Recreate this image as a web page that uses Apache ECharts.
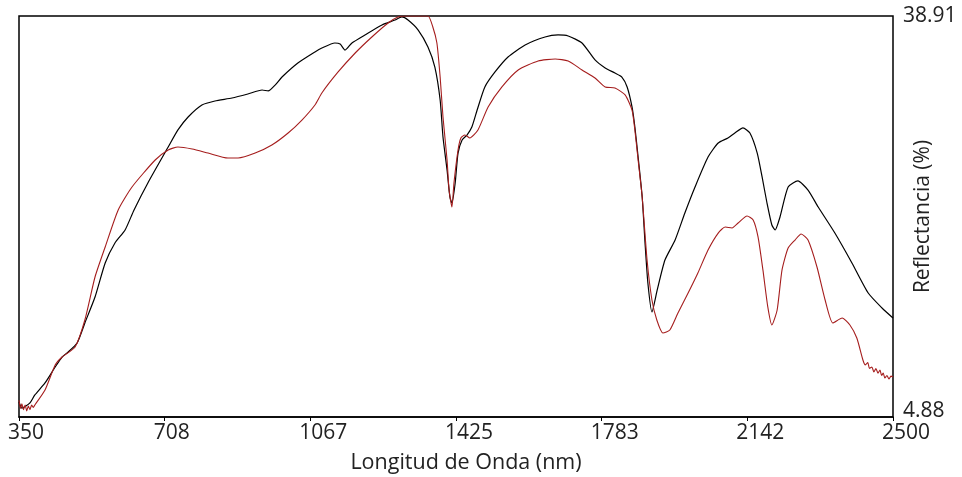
<!DOCTYPE html>
<html><head><meta charset="utf-8">
<script src="https://cdn.jsdelivr.net/npm/echarts@6/dist/echarts.min.js"></script>
<style>html,body{margin:0;padding:0;background:#fff}#c{width:962px;height:477px}</style>
</head><body><div id="c"></div>
<script>
const xTickLabels = ['350','708','1067','1425','1783','2142','2500'];
const yTickLabels = ['4.88','38.91'];
const xMin = 350, xMax = 2500, yMin = 4.88, yMax = 38.91;

const blackWl = [350,357,367,377,389,414,439,456,471,493,512,537,562,586,611,633,667,717,741,766,800,832,874,913,948,963,980,997,1036,1078,1095,1127,1140,1152,1169,1201,1243,1275,1292,1307,1332,1356,1373,1386,1393,1403,1410,1415,1423,1430,1440,1452,1464,1477,1496,1521,1553,1595,1644,1676,1701,1735,1767,1792,1816,1833,1846,1858,1865,1873,1883,1890,1897,1907,1920,1939,1964,1988,2013,2045,2070,2094,2111,2131,2148,2166,2178,2190,2202,2210,2222,2242,2266,2291,2316,2357,2399,2439,2473,2500];
const blackRefl = [6.15,5.64,5.81,6.07,6.75,7.77,9.12,9.97,10.40,11.16,12.86,15.06,17.95,19.65,20.75,22.45,24.74,27.79,29.24,30.34,31.36,31.70,31.95,32.29,32.63,32.55,33.05,33.73,34.92,35.86,36.19,36.62,36.53,36.02,36.62,37.30,38.15,38.57,38.83,38.57,37.72,36.28,34.58,31.78,28.64,25.84,23.55,23.04,24.74,27.28,28.39,28.81,29.49,30.93,32.89,34.16,35.43,36.45,37.13,37.30,37.21,36.62,35.18,34.50,34.07,33.73,32.89,31.19,29.49,26.94,23.55,19.65,16.25,13.79,15.66,18.20,19.90,22.19,24.40,26.94,28.13,28.56,28.98,29.41,28.98,27.28,25.25,23.04,21.17,20.75,21.85,24.40,24.91,24.14,22.70,20.49,17.95,15.40,14.13,13.28];

const redWl = [350,354,357,361,365,369,373,377,381,385,389,414,439,456,488,512,537,562,594,628,685,717,741,776,815,864,889,931,972,1012,1046,1078,1095,1135,1177,1218,1258,1282,1300,1324,1356,1368,1378,1386,1393,1403,1408,1415,1420,1430,1437,1447,1459,1479,1504,1538,1578,1627,1669,1701,1735,1767,1792,1816,1841,1858,1865,1873,1883,1895,1907,1919,1934,1951,1971,1996,2020,2045,2070,2087,2104,2119,2141,2156,2168,2180,2192,2202,2215,2227,2242,2259,2274,2291,2313,2333,2352,2375,2394,2411,2426,2432,2438,2442,2448,2453,2458,2463,2468,2472,2476,2480,2485,2490,2495,2500];
const redRefl = [6.3,5.6,6.0,5.5,5.9,5.4,5.8,5.5,5.9,5.7,5.9,7.17,9.29,9.97,10.82,13.11,16.76,19.31,22.45,24.40,26.69,27.54,27.79,27.62,27.28,26.86,26.86,27.28,27.96,28.98,30.08,31.36,32.38,34.16,35.77,37.13,38.32,38.83,38.91,38.91,38.91,37.98,36.62,33.73,30.34,26.69,24.14,22.70,24.74,27.54,28.56,28.81,28.56,29.24,31.19,32.89,34.33,35.09,35.26,35.09,34.33,33.65,32.89,32.80,32.21,30.93,29.24,26.69,23.55,18.20,14.81,13.11,12.01,12.26,13.71,15.40,17.10,19.05,20.49,21.00,20.92,21.34,21.94,21.60,20.16,17.36,14.22,12.69,13.96,17.36,19.22,19.90,20.41,19.90,17.61,14.81,12.86,13.28,12.69,11.58,9.72,9.3,9.5,9.0,9.12,8.7,9.0,8.6,8.87,8.4,8.6,8.19,8.4,8.1,8.35,8.27];

const zip = (a, b) => a.map((v, i) => [v, b[i]]);
const FONT = 'Open Sans';
const TXT = '#222';

const chart = echarts.init(document.getElementById('c'), null, {renderer: 'canvas'});
chart.setOption({
  animation: false,
  backgroundColor: '#fff',
  grid: [
    {left: 19, right: 69, top: 16, bottom: 60, show: true, borderColor: '#000', borderWidth: 1.5, backgroundColor: 'transparent', outerBoundsMode: 'none', containLabel: false},
    {left: 8, right: 80, top: 16, bottom: 60, outerBoundsMode: 'none', containLabel: false}
  ],
  xAxis: [
    {type: 'value', gridIndex: 0, min: xMin, max: xMax, show: false},
    {type: 'category', gridIndex: 0, data: xTickLabels, boundaryGap: false, position: 'bottom',
     name: 'Longitud de Onda (nm)', nameLocation: 'middle', nameGap: 35, nameMoveOverlap: false,
     nameTextStyle: {fontFamily: FONT, fontSize: 21.5, color: TXT, padding: [0, 0, 0, 20]},
     axisLine: {show: true, lineStyle: {color: '#000', width: 1.5}},
     axisTick: {show: true, length: 4, interval: 0, lineStyle: {color: '#000', width: 1}},
     axisLabel: {show: false}, splitLine: {show: false}},
    {type: 'category', gridIndex: 1, data: xTickLabels, boundaryGap: false, position: 'bottom',
     axisLine: {show: false}, axisTick: {show: false}, splitLine: {show: false},
     axisLabel: {interval: 0, align: 'left', margin: 6, fontFamily: FONT, fontSize: 21, color: TXT}}
  ],
  yAxis: [
    {type: 'value', gridIndex: 0, min: yMin, max: yMax, show: false},
    {type: 'category', gridIndex: 0, data: yTickLabels, boundaryGap: false, position: 'right',
     name: 'Reflectancia (%)', nameLocation: 'middle', nameRotate: 90, nameGap: 20, nameMoveOverlap: false,
     nameTextStyle: {fontFamily: FONT, fontSize: 21, color: TXT},
     axisLine: {show: false}, axisTick: {show: false}, splitLine: {show: false},
     axisLabel: {interval: 0, margin: 10, align: 'left',
       formatter: (v, i) => i === 0 ? '{b|' + v + '}' : '{t|' + v + '}',
       rich: {
         b: {fontFamily: FONT, fontSize: 21, color: TXT, padding: [0, 0, 12, 0]},
         t: {fontFamily: FONT, fontSize: 21, color: TXT}
       }}},
    {type: 'value', gridIndex: 1, show: false}
  ],
  series: [
    {type: 'line', name: 'black', xAxisIndex: 0, yAxisIndex: 0, data: zip(blackWl, blackRefl),
     showSymbol: false, smooth: 0.2, lineStyle: {color: '#000', width: 1.2}, clip: true},
    {type: 'line', name: 'red', xAxisIndex: 0, yAxisIndex: 0, data: zip(redWl, redRefl),
     showSymbol: false, smooth: 0.2, lineStyle: {color: '#a51d1d', width: 1.1}, clip: true}
  ]
});
</script></body></html>
